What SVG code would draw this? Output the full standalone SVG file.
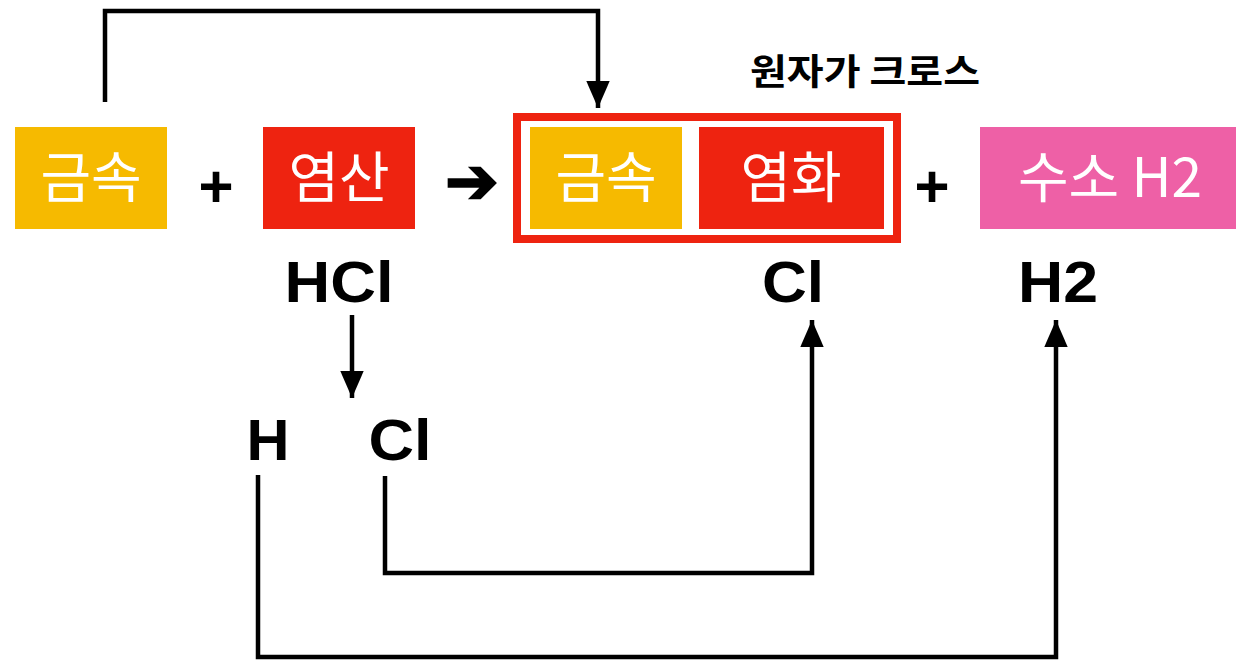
<svg xmlns="http://www.w3.org/2000/svg" width="1236" height="660" viewBox="0 0 1236 660">
<defs>
<marker id="ah" markerWidth="6" markerHeight="6" refX="6" refY="2.6" orient="auto" markerUnits="strokeWidth">
<path d="M0,0 L6,2.6 L0,5.2 Z" fill="#000"/>
</marker>
<style>
.box{stroke:none}
.kt{font-family:"Noto Sans CJK KR","Noto Sans",sans-serif;font-size:55px;fill:#fff;text-anchor:middle;font-weight:400}
.f{font-family:"Liberation Sans",Arial,sans-serif;font-weight:700;fill:#000;text-anchor:middle}
.conn{fill:none;stroke:#000;stroke-width:4.5}
</style>
</defs>
<rect width="1236" height="660" fill="#fff"/>
<g id="metal">
<rect class="box" x="15" y="127" width="152" height="102" fill="#F6BA00"/>
<text class="kt" x="91" y="197">금속</text>
</g>
<text class="f" x="216" y="207" font-size="60">+</text>
<g id="acid">
<rect class="box" x="263" y="127" width="152" height="102" fill="#EE2310"/>
<text class="kt" x="339" y="197">염산</text>
</g>
<text class="f" x="472" y="203" font-size="64" font-family="DejaVu Sans">➔</text>
<g id="salt">
<rect x="517" y="117" width="380" height="122" fill="#fff" stroke="#EE2310" stroke-width="8"/>
<rect class="box" x="530" y="127" width="152" height="102" fill="#F6BA00"/>
<text class="kt" x="606" y="197">금속</text>
<rect class="box" x="699" y="127" width="185" height="102" fill="#EE2310"/>
<text class="kt" x="791" y="197">염화</text>
</g>
<text class="f" x="932" y="207" font-size="60">+</text>
<g id="hydrogen">
<rect class="box" x="980" y="127" width="256" height="102" fill="#EE60A6"/>
<text class="kt" x="1110" y="197">수소 H2</text>
</g>
<g id="label">
<text x="865" y="85" font-family="Noto Sans CJK KR,Noto Sans,sans-serif" font-size="36" font-weight="700" text-anchor="middle" fill="#000" textLength="230" lengthAdjust="spacingAndGlyphs">원자가 크로스</text>
</g>
<g id="hcl"><text class="f" x="339" y="302" font-size="57" textLength="109" lengthAdjust="spacingAndGlyphs">HCl</text></g>
<g id="cl1"><text class="f" x="793" y="302" font-size="57" textLength="62" lengthAdjust="spacingAndGlyphs">Cl</text></g>
<g id="h2"><text class="f" x="1058" y="302" font-size="57" textLength="80" lengthAdjust="spacingAndGlyphs">H2</text></g>
<g id="h"><text class="f" x="268" y="460" font-size="57" textLength="43" lengthAdjust="spacingAndGlyphs">H</text></g>
<g id="cl2"><text class="f" x="400" y="460" font-size="57" textLength="63" lengthAdjust="spacingAndGlyphs">Cl</text></g>
<g id="connectors">
<path class="conn" d="M105,102 V11 H598 V108" marker-end="url(#ah)"/>
<path class="conn" d="M352,315 V398" marker-end="url(#ah)"/>
<path class="conn" d="M385,476 V573 H812 V320" marker-end="url(#ah)"/>
<path class="conn" d="M258,475 V657 H1056 V320" marker-end="url(#ah)"/>
</g>
</svg>
